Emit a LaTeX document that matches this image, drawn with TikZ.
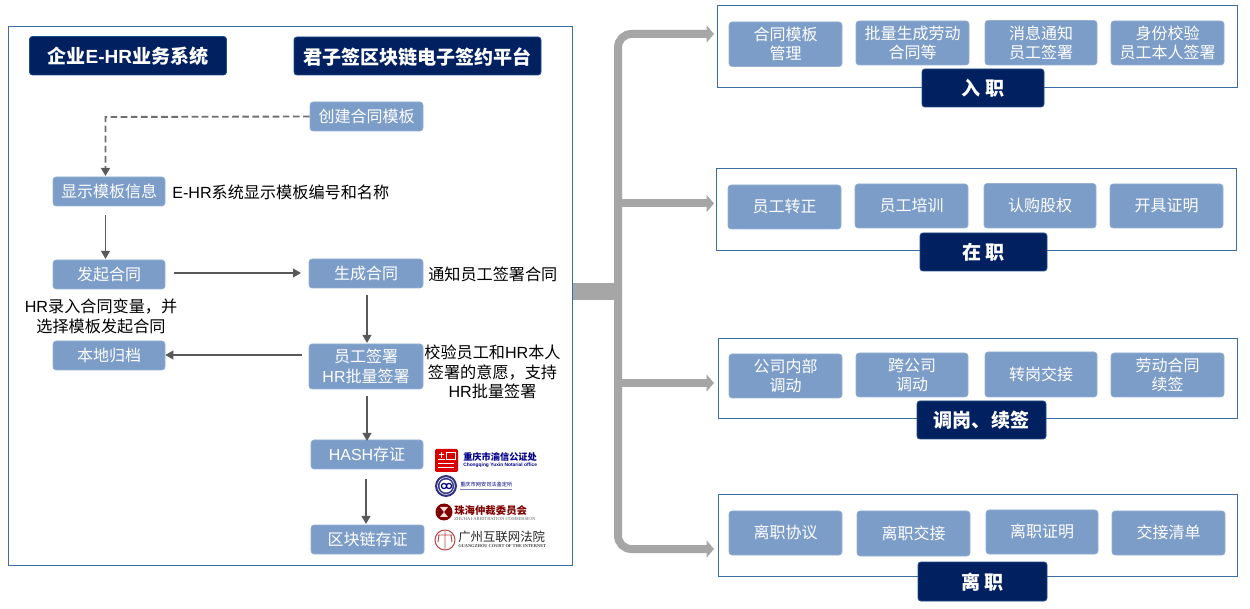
\documentclass[tikz,border=0pt]{standalone}
\usepackage{fontspec}
\setmainfont{Noto Sans CJK SC}
\newfontfamily\lat{Liberation Sans}
\newfontfamily\serifl{Liberation Serif}
\usetikzlibrary{arrows.meta,positioning,calc}
\definecolor{navy}{HTML}{002060}
\definecolor{boxblue}{HTML}{7C9DC8}
\definecolor{frameblue}{HTML}{3A6EA5}
\definecolor{flow}{HTML}{595959}
\definecolor{dashgray}{HTML}{6F6F6F}
\definecolor{bus}{HTML}{A6A6A6}
\newcommand{\boxdrop}{0pt}
\newcommand{\bx}[8][]{% opts, style, x1,y1,x2,y2, name, text
  \node[#2,#1,minimum width={(#5-#3)*0.75pt},minimum height={(#6-#4)*0.75pt}] (#7) at ({(#3+#5)/2},{(#4+#6)/2}) {\raisebox{\boxdrop}[0pt][0pt]{\begin{tabular}{@{}c@{}}#8\end{tabular}}}}
\tikzset{
  x=0.75pt,y=-0.75pt,
  frame/.style={draw=frameblue,line width=0.7pt,fill=white,inner sep=0pt},
  navybox/.style={draw=frameblue!60!navy,line width=0.6pt,fill=navy,text=white,rounded corners=2.2pt,inner sep=0pt,font=\renewcommand{\boxdrop}{-5.8pt}\fontsize{14.3}{16}\selectfont\bfseries},
  bluebox/.style={fill=boxblue,draw=boxblue!80!white,line width=0.4pt,text=white,rounded corners=2.2pt,inner sep=0pt,font=\renewcommand{\boxdrop}{-4.5pt}\fontsize{12}{14.2}\selectfont},
  note/.style={inner sep=0pt,text=black,font=\fontsize{12.1}{14.6}\selectfont,align=center},
  flowline/.style={draw=flow,line width=1.3pt,-{Triangle[length=6pt,width=6.5pt]}},
  dashline/.style={draw=dashgray,line width=1.4pt,dash pattern=on 5pt off 2.6pt,-{Triangle[length=6pt,width=6.5pt,color=flow]}},
  busline/.style={draw=bus,line width=6pt,-{Triangle[length=5.5pt,width=12.5pt]},rounded corners=10pt},
}
\begin{document}
\begin{tikzpicture}
\useasboundingbox (0,0) rectangle (1250,609);
\fill[white] (0,0) rectangle (1250,609);
% frames
\bx{frame}{8.5}{26.5}{572.5}{565.5}{leftframe}{};
\bx{frame}{717.5}{5}{1237.5}{87.5}{fa}{};
\bx{frame}{716.5}{168}{1236.5}{250}{fb}{};
\bx{frame}{718}{338}{1237}{418}{fc}{};
\bx{frame}{718}{494}{1237}{576}{fd}{};
% headers
\bx{navybox}{29.5}{36.5}{226.5}{75}{h1}{企业{\lat E-HR}业务系统};
\bx{navybox}{294}{37}{541}{75}{h2}{君子签区块链电子签约平台};
% flow boxes
\bx{bluebox}{310}{102}{423}{131}{create}{创建合同模板};
\bx{bluebox}{53}{177}{165}{206}{show}{显示模板信息};
\bx{bluebox}{53}{260}{165}{289}{start}{发起合同};
\bx{bluebox}{309}{259}{423}{288}{gen}{生成合同};
\bx{bluebox}{53}{341}{165}{370}{archive}{本地归档};
\bx{bluebox}{309}{344}{423}{389}{sign}{员工签署\\{\lat HR}批量签署};
\bx{bluebox}{311}{440}{423}{469}{hash}{{\lat HASH}存证};
\bx{bluebox}{311}{525}{424}{554}{chain}{区块链存证};
% notes
\node[note,anchor=west] (n1) at (172,192) {{\lat E-HR}系统显示模板编号和名称};
\node[note,anchor=west] (n2) at (428,274) {通知员工签署合同};
\node[note] (n3) at (101,316.5) {{\lat HR}录入合同变量，并\\选择模板发起合同};
\node[note] (n4) at (492.5,372) {校验员工和{\lat HR}本人\\签署的意愿，支持\\{\lat HR}批量签署};
% flow connectors
\coordinate (dcorner) at (105.5,117);
\coordinate (showtop) at (105.5,176);
\coordinate (showbot) at (105.5,215);
\coordinate (starttop) at (105.5,259);
\draw[dashline] (create.west) -- (dcorner) -- (showtop);
\draw[flowline] (showbot) -- (starttop);
\coordinate (startr) at (174,273);
\coordinate (genl) at (301,273);
\draw[flowline] (startr) -- (genl);
\coordinate (gb) at (367,295);
\coordinate (st) at (367,343);
\draw[flowline] (gb) -- (st);
\coordinate (signl) at (302,355);
\draw[flowline] (signl) -- (archive.east |- signl);
\coordinate (sb) at (367,396);
\coordinate (ht) at (367,441);
\draw[flowline] (sb) -- (ht);
\coordinate (hb) at (366,479);
\coordinate (ct) at (366,524);
\draw[flowline] (hb) -- (ct);
% bus
\coordinate (hub) at (618,291);
\coordinate (ea) at (714,34);
\coordinate (eb) at (714,203.5);
\coordinate (ec) at (714,383);
\coordinate (ed) at (714,549);
\fill[bus] (572.5,283) rectangle (622,300);
\draw[busline] (hub) -- (hub |- ea) -- (ea);
\draw[busline] (hub) -- (hub |- ed) -- (ed);
\draw[busline] (hub |- eb) -- (eb);
\draw[busline] (hub |- ec) -- (ec);
% right boxes A
\bx{bluebox}{729}{22}{842}{66.5}{a1}{合同模板\\管理};
\bx{bluebox}{856}{21}{969}{65}{a2}{批量生成劳动\\合同等};
\bx{bluebox}{985}{20.5}{1097}{65}{a3}{消息通知\\员工签署};
\bx{bluebox}{1111}{21}{1224}{65}{a4}{身份校验\\员工本人签署};
\bx{navybox}{922}{69}{1044}{107}{la}{入 职};
% B
\bx{bluebox}{728}{185}{841}{229}{b1}{员工转正};
\bx{bluebox}{855}{184}{968}{228}{b2}{员工培训};
\bx{bluebox}{984}{183.5}{1096}{228}{b3}{认购股权};
\bx{bluebox}{1110}{184}{1223}{228}{b4}{开具证明};
\bx{navybox}{920}{233}{1047}{271}{lb}{在 职};
% C
\bx{bluebox}{729}{354}{842}{398}{c1}{公司内部\\调动};
\bx{bluebox}{856}{353}{968}{397}{c2}{跨公司\\调动};
\bx{bluebox}{985}{352}{1097}{397}{c3}{转岗交接};
\bx{bluebox}{1111}{353}{1224}{397}{c4}{劳动合同\\续签};
\bx{navybox}{917}{401}{1046}{439}{lc}{调岗、续签};
% D
\bx{bluebox}{729}{511}{842}{555}{d1}{离职协议};
\bx{bluebox}{857}{511}{970}{556}{d2}{离职交接};
\bx{bluebox}{986}{510}{1098}{554}{d3}{离职证明};
\bx{bluebox}{1112}{511}{1225}{555}{d4}{交接清单};
\bx{navybox}{918}{562}{1047}{601}{ld}{离 职};
% logos
\fill[red!85!black,rounded corners=1pt] (435,449) rectangle (458,472);
\draw[white,line width=0.6pt] (439,454) -- (444,454) (441.5,452) -- (441.5,458) (438,459) -- (445,459) (438,463) -- (454,463) (438,467) -- (454,467) (446,452) rectangle (455,459);
\node[anchor=west,inner sep=0pt,text=blue!55!black,font=\fontsize{6.9}{7}\selectfont\bfseries] (t1) at (463,457) {重庆市渝信公证处};
\node[anchor=west,inner sep=0pt,text=blue!55!black,font=\lat\fontsize{3.65}{4}\selectfont\bfseries] (t1b) at (463,465.5) {Chongqing Yuxin Notarial office};
\fill[blue!40!black!80] (446,486) circle[radius=11];
\draw[white,line width=0.4pt] (446,486) circle[radius=8.5];
\fill[white] (446,486) circle[radius=6.5];
\draw[blue!50!black,line width=0.9pt] (444,486) circle[radius=2.6] (449,486) circle[radius=2.6];
\node[anchor=west,inner sep=0pt,text=blue!50!black,font=\fontsize{3.9}{5}\selectfont] (t2) at (460,484.5) {重庆市网安司法鉴定所};
\draw[blue!35!black!50,line width=0.7pt] (460,489) -- (512,489);
\fill[red!50!black] (444,512) circle[radius=8.5];
\fill[white!85!red] (440,507) -- (448,507) -- (444,512) -- (448,517) -- (440,517) -- (444,512) -- cycle;
\node[anchor=west,inner sep=0pt,text=red!50!black,font=\fontsize{7.8}{8}\selectfont\bfseries] (t3) at (454,510.5) {珠海仲裁委员会};
\node[anchor=west,inner sep=0pt,text=black!60,font=\serifl\fontsize{3.5}{4}\selectfont] (t3b) at (454,518.5) {ZHUHAI ARBITRATION COMMISSION};
\draw[red!60!black!70,line width=0.8pt] (445,540) circle[radius=10];
\draw[red!60!black!70,line width=0.7pt] (445,531) -- (445,549) (438,535) -- (452,535) (439,535) -- (438,542) (451,535) -- (452,542);
\node[anchor=west,inner sep=0pt,text=black!85,font=\fontsize{9.3}{10}\selectfont] (t4) at (458,537) {广州互联网法院};
\node[anchor=west,inner sep=0pt,text=black!75,font=\serifl\fontsize{3.3}{4}\selectfont\bfseries] (t4b) at (458,546) {GUANGZHOU COURT OF THE INTERNET};
\end{tikzpicture}
\end{document}
